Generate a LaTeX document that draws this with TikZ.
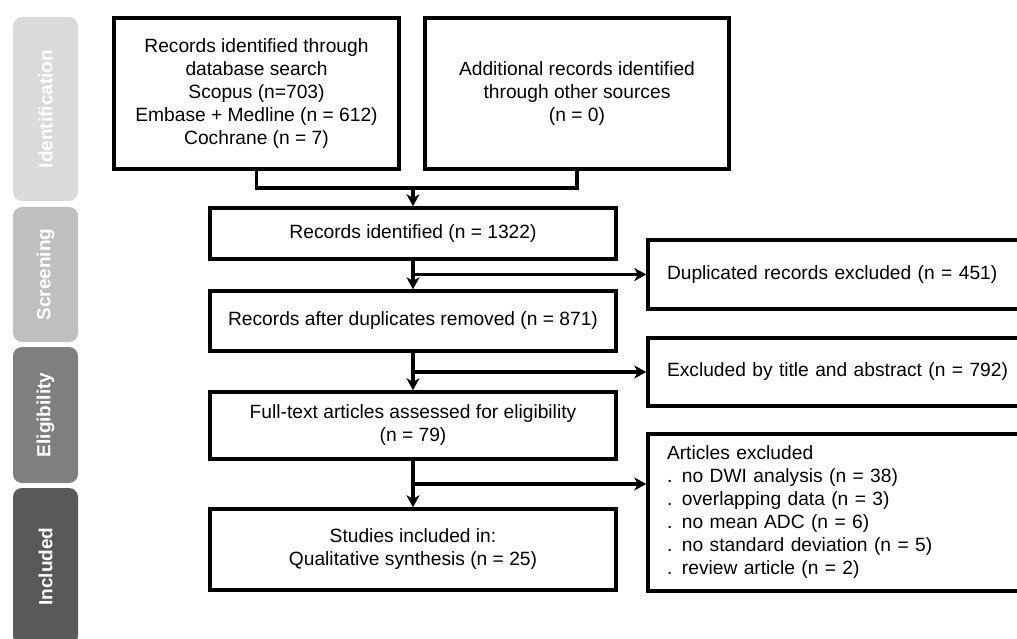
\documentclass[tikz,border=0pt]{standalone}
\usepackage{fontspec}
\setmainfont{Liberation Sans}
\usetikzlibrary{arrows.meta,calc}
\definecolor{phaseA}{HTML}{DADADA}
\definecolor{phaseB}{HTML}{BFBFBF}
\definecolor{phaseC}{HTML}{7F7F7F}
\definecolor{phaseD}{HTML}{595959}
\begin{document}
\begin{tikzpicture}[x=1pt,y=-1pt,
  box/.style={draw=black,line width=3.4pt,inner sep=0pt,align=center,
    font=\fontsize{19.2}{23}\selectfont},
  sidebox/.style={draw=black,line width=3.4pt,inner xsep=19pt,inner ysep=0pt,
    text width=420pt,align=left,font=\fontsize{19.2}{23}\selectfont},
  phase/.style={rounded corners=9pt,text=white,inner sep=0pt,rotate=90,
    minimum height=65pt,font=\bfseries\fontsize{19}{23}\selectfont},
  conn/.style={line width=3.4pt},
  arr/.style={line width=3.4pt,-{Stealth[length=12pt,width=13pt,inset=3.5pt]}}]
\useasboundingbox (0,0) rectangle (1017,639);
\clip (0,0) rectangle (1017,639);

% phase bars
\node[phase,fill=phaseA,minimum width=184pt] (p1) at (45.5,109) {Identification};
\node[phase,fill=phaseB,minimum width=135pt] (p2) at (45.5,274.5) {Screening};
\node[phase,fill=phaseC,minimum width=136pt] (p3) at (45.5,415) {Eligibility};
\node[phase,fill=phaseD,minimum width=157pt] (p4) at (45.5,566.5) {Included};

% main column
\node[box,minimum width=285pt,minimum height=151pt] (A) at (256.5,93.5)
  {Records identified through\\database search\\Scopus (n=703)\\Embase + Medline (n = 612)\\Cochrane (n = 7)};
\node[box,minimum width=304pt,minimum height=151pt] (B) at (577,93.5)
  {Additional records identified\\through other sources\\(n = 0)};
\node[box,minimum width=406pt,minimum height=51pt] (C) at (413,233.5)
  {Records identified (n = 1322)};
\node[box,minimum width=406pt,minimum height=60pt] (D) at (413,321)
  {Records after duplicates removed (n = 871)};
\node[box,minimum width=406pt,minimum height=67pt] (F) at (413,425.5)
  {Full-text articles assessed for eligibility\\(n = 79)};
\node[box,minimum width=406pt,minimum height=81pt] (H) at (413,549.5)
  {Studies included in:\\Qualitative synthesis (n = 25)};

% exclusion column (boxes run past the right edge)
\node[sidebox,minimum height=69pt] (E) at (877,274.5)
  {Duplicated records excluded (n = 451)};
\node[sidebox,minimum height=68pt] (G) at (877,372)
  {Excluded by title and abstract (n = 792)};
\node[sidebox,minimum height=157pt] (I) at (877,512.5)
  {Articles excluded\\. no DWI analysis (n = 38)\\. overlapping data (n = 3)\\. no mean ADC (n = 6)\\. no standard deviation (n = 5)\\. review article (n = 2)};

% connectors
\coordinate (m) at (413,188);
\draw[conn] (A.south) |- (m) -| (B.south);
\draw[arr] (m) -- (C.north);
\draw[arr] (C) -- (D);
\draw[arr] (C.south |- E.west) -- (E.west);
\draw[arr] (D) -- (F);
\draw[arr] (D.south |- G.west) -- (G.west);
\draw[arr] (F) -- (H);
\coordinate (b3) at ($(F.south)!0.5!(H.north)$);
\draw[arr] (b3) -- (b3 -| I.west);
\end{tikzpicture}
\end{document}
